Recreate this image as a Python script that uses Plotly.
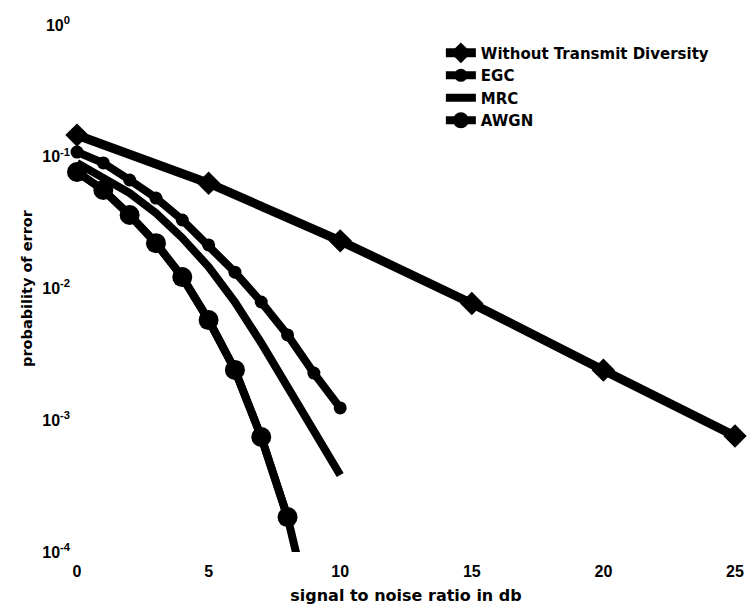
import plotly.graph_objects as go

# SNR points (dB)
snr_fine = [0, 1, 2, 3, 4, 5, 6, 7, 8, 9, 10]
snr_coarse = [0, 5, 10, 15, 20, 25]

# bit error probabilities
no_diversity = [0.146, 0.063, 0.023, 0.0077, 0.0024, 0.00076]
egc = [0.1086, 0.0897, 0.0666, 0.0486, 0.0331, 0.0214, 0.0133, 0.0079, 0.00444, 0.00228, 0.00124]
mrc = [0.0897, 0.0702, 0.0531, 0.0374, 0.0242, 0.0146, 0.0079, 0.00386, 0.00182, 0.000814, 0.000384]
awgn = [0.0766, 0.0559, 0.0361, 0.0221, 0.0122, 0.00576, 0.00241, 0.000746, 0.000184, 3.4e-5, 3.9e-6]

y_ticks = [1e-4, 1e-3, 1e-2, 1e-1, 1]
y_tick_text = ["10<sup>-4</sup>", "10<sup>-3</sup>", "10<sup>-2</sup>", "10<sup>-1</sup>", "10<sup>0</sup>"]
x_ticks = [0, 5, 10, 15, 20, 25]

Y_MIN = 1e-4
TICK_FONT = dict(family="Liberation Sans, Arial, sans-serif", size=16, color="black", weight="bold")
LEGEND_FONT = dict(family="DejaVu Sans, sans-serif", size=15, color="black", weight="bold")
XTITLE_FONT = dict(family="DejaVu Sans, sans-serif", size=16, color="black", weight="bold")
YTITLE_FONT = dict(family="DejaVu Sans, sans-serif", size=14.5, color="black", weight="bold")

# AWGN points inside the visible y range carry markers; the full curve runs on below
awgn_in = [(x, v) for x, v in zip(snr_fine, awgn) if v >= Y_MIN]
awgn_in_x = [p[0] for p in awgn_in]
awgn_in_y = [p[1] for p in awgn_in]

fig = go.Figure()
fig.add_trace(go.Scatter(
    x=snr_coarse, y=no_diversity, mode="lines+markers", name="Without Transmit Diversity",
    line=dict(color="black", width=9),
    marker=dict(symbol="diamond", size=18, color="black"),
    cliponaxis=False,
))
fig.add_trace(go.Scatter(
    x=snr_fine, y=egc, mode="lines+markers", name="EGC",
    line=dict(color="black", width=8),
    marker=dict(symbol="circle", size=13, color="black"),
    cliponaxis=False,
))
fig.add_trace(go.Scatter(
    x=snr_fine, y=mrc, mode="lines", name="MRC",
    line=dict(color="black", width=8),
    cliponaxis=False,
))
fig.add_trace(go.Scatter(
    x=snr_fine, y=awgn, mode="lines", name="AWGN", showlegend=False,
    line=dict(color="black", width=8),
))
fig.add_trace(go.Scatter(
    x=awgn_in_x, y=awgn_in_y, mode="lines+markers", name="AWGN",
    line=dict(color="black", width=8),
    marker=dict(symbol="circle", size=20, color="black"),
    cliponaxis=False,
))

fig.update_layout(
    width=756, height=613,
    margin=dict(l=77, r=15, t=25, b=61),
    paper_bgcolor="white", plot_bgcolor="white",
    font=TICK_FONT,
    legend=dict(
        x=0.553, y=0.978, xanchor="left", yanchor="top",
        bgcolor="rgba(0,0,0,0)", font=LEGEND_FONT, tracegroupgap=0,
    ),
    xaxis=dict(
        range=[0, 25], tickvals=x_ticks, showgrid=False, zeroline=False, showline=False,
        ticks="", ticklabelstandoff=8, tickfont=TICK_FONT,
        title=dict(text="signal to noise ratio in db", font=XTITLE_FONT, standoff=10),
    ),
    yaxis=dict(
        type="log", range=[-4, 0], tickvals=y_ticks, ticktext=y_tick_text,
        showgrid=False, zeroline=False, showline=False, ticks="", ticklabelstandoff=6,
        tickfont=TICK_FONT,
        title=dict(text="probability of error", font=YTITLE_FONT, standoff=6),
    ),
)

fig.write_html("out.html")
